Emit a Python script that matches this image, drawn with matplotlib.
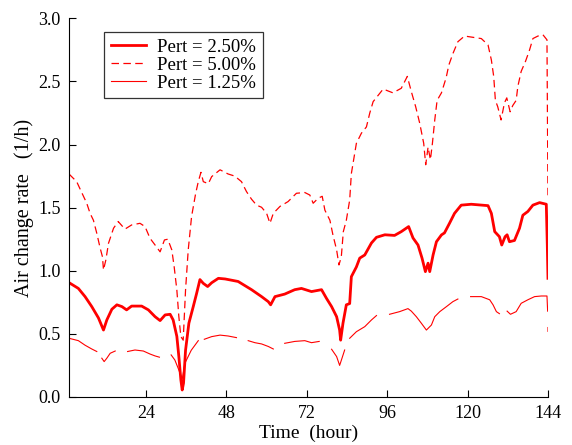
import numpy as np
import matplotlib
matplotlib.use('Agg')
import matplotlib.pyplot as plt

plt.rcParams['font.family'] = ['Liberation Serif', 'DejaVu Serif']
plt.rcParams['mathtext.fontset'] = 'stix'

nan = np.nan

# Pert = 2.50 %
t_25 = [1.0, 3.8, 5.8, 7.8, 9.8, 11.3, 12.3, 13.8, 15.3, 16.8, 18.2, 19.7, 22.7, 24.7,
        26.7, 28.2, 29.7, 31.2, 32.1, 33.2, 33.8, 34.4, 34.8, 35.2, 35.8, 36.8, 38.1,
        39.1, 40.1, 41.1, 42.4, 43.6, 45.6, 47.6, 51.5, 55.5, 58.5, 60.5, 61.2, 62.5,
        65.4, 68.4, 70.4, 73.4, 76.4, 77.9, 79.4, 80.9, 81.8, 82.1, 82.8, 83.8, 84.8,
        85.3, 86.8, 87.8, 89.3, 91.3, 92.8, 95.3, 98.2, 100.2, 102.4, 103.7, 105.2,
        106.4, 107.4, 108.2, 108.7, 109.7, 110.7, 112.2, 113.1, 114.6, 116.1, 118.1,
        121.1, 126.1, 127.1, 128.1, 129.5, 130.2, 131.2, 131.8, 132.5, 134.0, 135.5,
        136.5, 138.0, 139.5, 141.5, 143.5, 143.8, 144.0]
v_25 = [0.906, 0.86, 0.795, 0.716, 0.626, 0.53, 0.61, 0.695, 0.73, 0.716, 0.69, 0.72, 0.72,
        0.69, 0.636, 0.605, 0.65, 0.655, 0.61, 0.48, 0.32, 0.135, 0.055, 0.11, 0.37, 0.585,
        0.716, 0.82, 0.93, 0.90, 0.875, 0.905, 0.94, 0.935, 0.915, 0.85, 0.795, 0.755, 0.73,
        0.795, 0.815, 0.85, 0.86, 0.835, 0.85, 0.78, 0.716, 0.636, 0.53, 0.45, 0.584, 0.73,
        0.74, 0.953, 1.03, 1.10, 1.125, 1.22, 1.265, 1.285, 1.28, 1.31, 1.35, 1.26, 1.204,
        1.10, 0.993, 1.06, 0.993, 1.125, 1.23, 1.284, 1.30, 1.376, 1.455, 1.52, 1.527, 1.516,
        1.455, 1.31, 1.27, 1.204, 1.27, 1.285, 1.23, 1.24, 1.337, 1.44, 1.47, 1.52, 1.54,
        1.527, 1.20, 0.94]

# Pert = 5.00 %
t_50 = [1.0, 3.3, 4.8, 6.3, 7.3, 8.3, 9.3, 10.3, 11.0, 11.3, 12.0, 12.8, 14.3, 15.7, 17.7,
        19.7, 22.2, 23.7, 25.2, 26.7, 28.2, 29.5, 30.5, 31.7, 32.4, 33.2, 33.8, 34.4, 35.1,
        35.8, 36.6, 37.6, 38.8, 39.6, 40.4, 41.1, 42.6, 43.6, 46.1, 48.5, 50.5, 52.5, 54.0,
        55.5, 57.0, 58.5, 60.0, 61.0, 62.0, 64.0, 66.4, 68.9, 71.4, 72.9, 73.9, 75.4, 76.6,
        77.4, 78.9, 79.8, 80.9, 81.6, 82.3, 82.9, 83.8, 84.8, 85.3, 86.8, 88.3, 89.8, 90.8,
        91.8, 93.3, 94.8, 97.7, 100.2, 102.0, 103.2, 104.5, 105.7, 106.9, 107.5, 108.2,
        108.9, 109.5, 110.2, 110.9, 112.2, 113.6, 114.4, 115.6, 117.1, 119.1, 121.6, 124.1,
        126.1, 127.1, 127.8, 128.3, 129.0, 130.0, 131.0, 131.7, 132.7, 133.5, 134.5, 135.0,
        136.0, 137.3, 138.5, 139.5, 141.0, 142.5, 143.7, 144.0]
v_50 = [1.767, 1.706, 1.62, 1.535, 1.455, 1.40, 1.297, 1.18, 1.11, 1.006, 1.085, 1.218, 1.337,
        1.39, 1.33, 1.363, 1.376, 1.35, 1.257, 1.204, 1.15, 1.244, 1.25, 1.165, 1.032, 0.848,
        0.636, 0.478, 0.45, 0.848, 1.165, 1.43, 1.61, 1.706, 1.78, 1.706, 1.69, 1.746, 1.80,
        1.767, 1.75, 1.706, 1.627, 1.567, 1.52, 1.503, 1.455, 1.376, 1.455, 1.51, 1.548, 1.614,
        1.62, 1.60, 1.535, 1.575, 1.59, 1.48, 1.40, 1.284, 1.165, 1.046, 1.11, 1.31, 1.40, 1.56,
        1.77, 2.01, 2.09, 2.14, 2.25, 2.34, 2.39, 2.44, 2.41, 2.446, 2.54, 2.42, 2.30, 2.17,
        2.01, 1.84, 1.98, 1.88, 2.01, 2.195, 2.35, 2.41, 2.53, 2.63, 2.72, 2.815, 2.86, 2.85,
        2.84, 2.79, 2.67, 2.54, 2.35, 2.30, 2.195, 2.33, 2.37, 2.26, 2.31, 2.35, 2.46, 2.58,
        2.66, 2.75, 2.84, 2.86, 2.87, 2.83, 1.57]

# Pert = 1.25 % (line has breaks)
t_125 = [1.0, 3.8, 5.8, 7.8, 9.3, nan,
         10.8, 11.5, 12.3, 13.3, 14.8, nan,
         18.5, 20.7, 23.2, 25.2, 26.7, 28.0, nan,
         31.5, 32.6, 33.6, 34.4, 34.8, 35.6, 37.5, 39.6, nan,
         41.4, 43.6, 46.1, 48.5, 51.0, nan,
         54.5, 56.5, 58.5, 60.5, 62.0, nan,
         65.4, 68.4, 71.4, 73.4, 75.7, nan,
         79.4, 80.9, 81.8, 82.3, 83.3, nan,
         84.8, 86.8, 89.3, 91.3, 92.8, nan,
         96.7, 99.7, 102.2, 103.2, 104.7, 106.2, 107.7, 109.2, 110.2, 111.7, 113.7, 115.6,
         117.1, nan,
         120.9, 124.1, 126.6, 127.6, 128.6, 129.5, nan,
         131.8, 132.8, 134.5, 136.0, 138.0, 140.0, 142.0, 143.7, 143.9, nan,
         144.0, 144.0]
v_125 = [0.465, 0.446, 0.41, 0.38, 0.36, nan,
         0.307, 0.28, 0.307, 0.346, 0.364, nan,
         0.36, 0.372, 0.364, 0.34, 0.325, 0.315, nan,
         0.333, 0.293, 0.227, 0.17, 0.14, 0.267, 0.37, 0.446, nan,
         0.457, 0.478, 0.49, 0.483, 0.47, nan,
         0.446, 0.43, 0.42, 0.40, 0.38, nan,
         0.425, 0.44, 0.446, 0.43, 0.44, nan,
         0.378, 0.32, 0.25, 0.29, 0.372, nan,
         0.465, 0.517, 0.557, 0.61, 0.645, nan,
         0.655, 0.676, 0.70, 0.68, 0.636, 0.584, 0.53, 0.57, 0.636, 0.676, 0.716, 0.755,
         0.776, nan,
         0.795, 0.795, 0.77, 0.73, 0.676, 0.66, nan,
         0.68, 0.655, 0.676, 0.742, 0.77, 0.795, 0.80, 0.80, 0.68, nan,
         0.55, 0.52]

xticks = [24, 48, 72, 96, 120, 144]
yticks = [0.0, 0.5, 1.0, 1.5, 2.0, 2.5, 3.0]

fig = plt.figure(figsize=(5.72, 4.45), dpi=100)
ax = fig.add_axes([0.1206, 0.108, 0.8374, 0.8507])

ax.plot(t_25, v_25, color='#ff0000', lw=2.0, label='Pert = 2.50%')
ax.plot(t_50, v_50, color='#ff0000', lw=0.9, linestyle=(0, (6, 3.5)), label='Pert = 5.00%')
ax.plot(t_125, v_125, color='#ff0000', lw=0.8, label='Pert = 1.25%')

ax.set_xlim(1, 144)
ax.set_ylim(0, 3.0)
ax.set_xticks(xticks)
ax.set_yticks(yticks)
ax.set_yticklabels(['%.1f' % y for y in yticks])
ax.tick_params(direction='in', length=5, width=0.8, labelsize=13, pad=6)

for side in ['top', 'right']:
    ax.spines[side].set_visible(False)
for side in ['left', 'bottom']:
    ax.spines[side].set_linewidth(0.8)

ax.set_xlabel('Time  (hour)', fontsize=14, labelpad=2)
ax.set_ylabel('Air change rate   (1/h)', fontsize=14.5, labelpad=3)

leg = ax.legend(loc='upper left', bbox_to_anchor=(0.073, 0.964), borderaxespad=0,
                fontsize=13.5, frameon=True, fancybox=False, handlelength=1.9,
                handletextpad=0.6, labelspacing=0.05, borderpad=0.35)
leg.get_frame().set_edgecolor('black')
leg.get_frame().set_linewidth(0.9)

plt.savefig('out.png', dpi=100)
